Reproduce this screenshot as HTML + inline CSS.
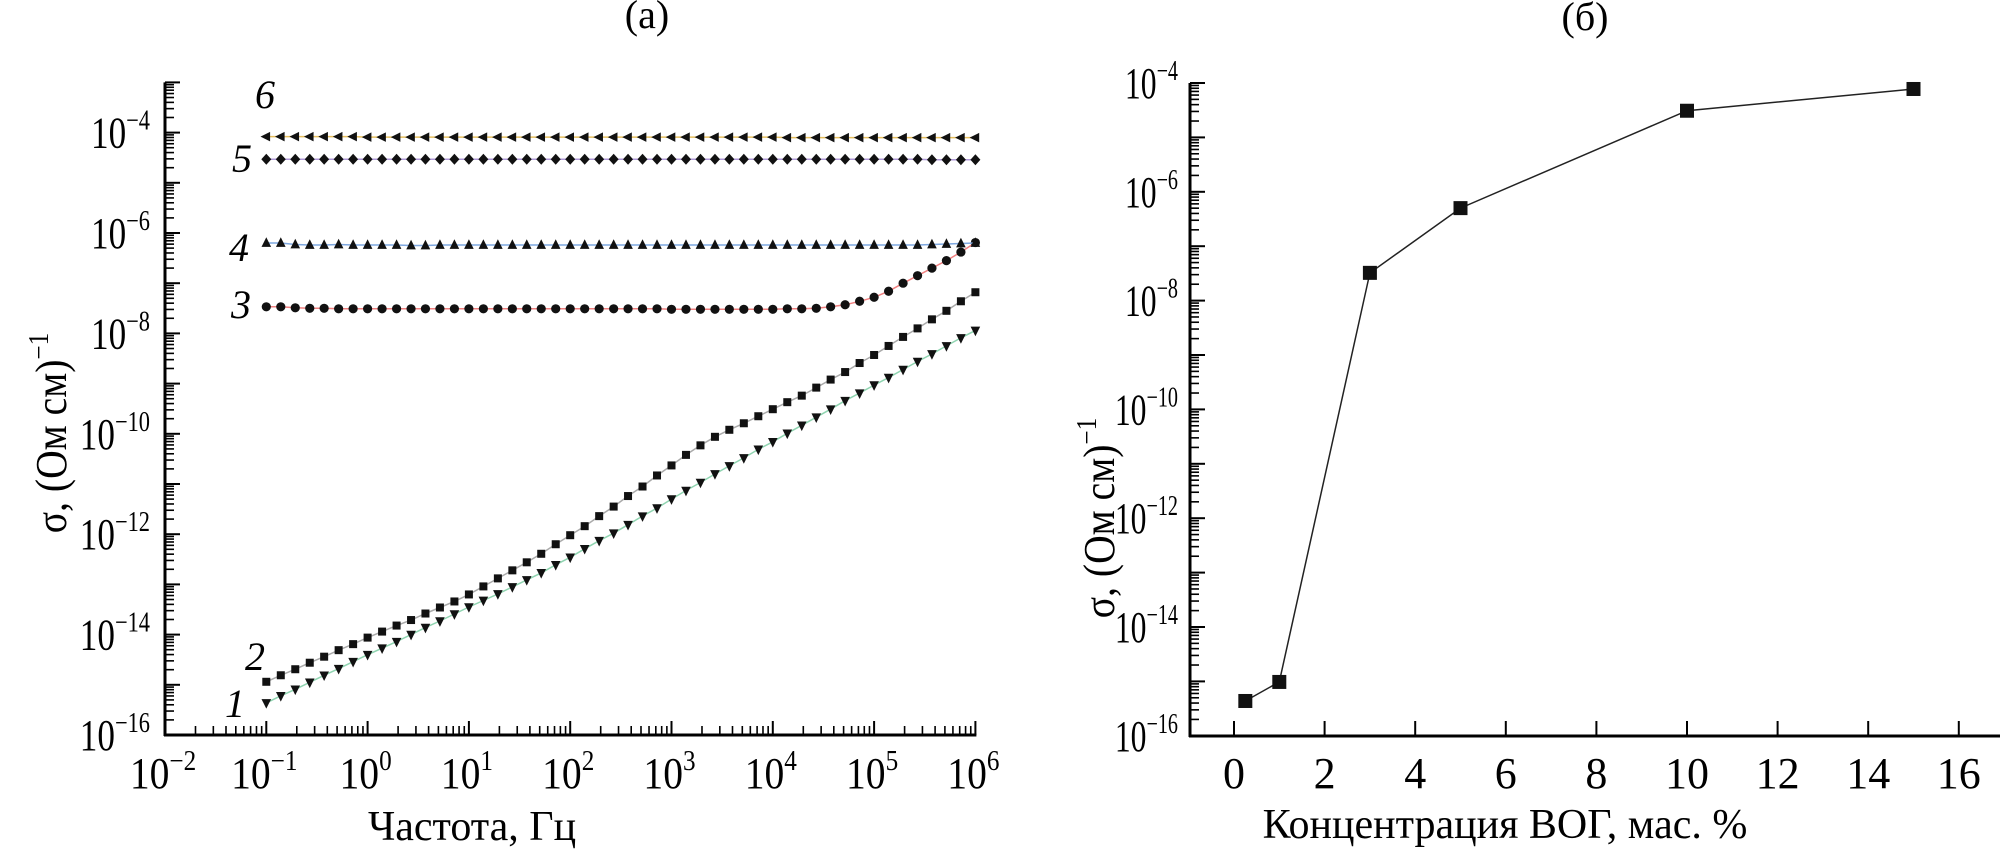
<!DOCTYPE html>
<html><head><meta charset="utf-8">
<style>
html,body{margin:0;padding:0;background:#fff;}
svg{display:block;font-family:"Liberation Serif","DejaVu Serif",serif;}
</style></head>
<body>
<svg id="fig" width="2000" height="851" viewBox="0 0 2000 851" xmlns="http://www.w3.org/2000/svg">
<text x="647" y="28" font-size="40" text-anchor="middle">(а)</text>
<text x="1585" y="30" font-size="40" text-anchor="middle">(б)</text>
<g id="left"></g>
<g id="right"></g>
<text x="472" y="840" font-size="42" text-anchor="middle">Частота, Гц</text>
<text x="1505" y="838" font-size="42" text-anchor="middle">Концентрация ВОГ, мас. %</text>
<text transform="translate(66,433) rotate(-90) scale(0.9,1)" font-size="44" text-anchor="middle">σ, (Ом см)<tspan font-size="28" dy="-18">−1</tspan></text>
<text transform="translate(1114,518) rotate(-90) scale(0.9,1)" font-size="44" text-anchor="middle">σ, (Ом см)<tspan font-size="28" dy="-18">−1</tspan></text>
</svg>
<script>
// ---- Chart (a) data: log10 frequency and log10 conductivity ----
const freqLog = [-1,-0.857,-0.714,-0.571,-0.429,-0.286,-0.143,0,0.143,0.286,0.429,0.571,0.714,0.857,1,1.143,1.286,1.429,1.571,1.714,1.857,2,2.143,2.286,2.429,2.571,2.714,2.857,3,3.143,3.286,3.429,3.571,3.714,3.857,4,4.143,4.286,4.429,4.571,4.714,4.857,5,5.143,5.286,5.429,5.571,5.714,5.857,6];
const sigma1 = [-15.36,-15.22,-15.09,-14.95,-14.81,-14.68,-14.54,-14.40,-14.27,-14.14,-14.00,-13.86,-13.73,-13.59,-13.45,-13.32,-13.19,-13.05,-12.91,-12.77,-12.61,-12.46,-12.29,-12.13,-11.98,-11.81,-11.64,-11.48,-11.30,-11.13,-10.97,-10.80,-10.64,-10.48,-10.31,-10.16,-9.99,-9.83,-9.67,-9.51,-9.34,-9.19,-9.03,-8.88,-8.72,-8.56,-8.41,-8.25,-8.09,-7.94];
const sigma2 = [-14.94,-14.81,-14.69,-14.56,-14.44,-14.31,-14.19,-14.06,-13.94,-13.82,-13.71,-13.58,-13.46,-13.34,-13.20,-13.04,-12.88,-12.72,-12.56,-12.39,-12.20,-12.02,-11.84,-11.64,-11.45,-11.24,-11.05,-10.83,-10.63,-10.42,-10.23,-10.06,-9.92,-9.79,-9.65,-9.51,-9.37,-9.24,-9.08,-8.92,-8.77,-8.59,-8.43,-8.25,-8.07,-7.90,-7.72,-7.55,-7.36,-7.18];
const sigma3 = [-7.47,-7.47,-7.49,-7.50,-7.50,-7.51,-7.51,-7.51,-7.51,-7.51,-7.51,-7.51,-7.51,-7.51,-7.51,-7.51,-7.51,-7.51,-7.51,-7.51,-7.51,-7.51,-7.51,-7.51,-7.51,-7.51,-7.51,-7.51,-7.52,-7.52,-7.52,-7.52,-7.52,-7.52,-7.52,-7.52,-7.51,-7.51,-7.50,-7.47,-7.43,-7.36,-7.28,-7.16,-7.00,-6.85,-6.70,-6.55,-6.38,-6.19];
const sigma4 = [-6.20,-6.20,-6.23,-6.24,-6.24,-6.23,-6.24,-6.24,-6.24,-6.24,-6.25,-6.25,-6.24,-6.24,-6.24,-6.24,-6.24,-6.24,-6.24,-6.24,-6.24,-6.24,-6.24,-6.24,-6.24,-6.24,-6.24,-6.24,-6.24,-6.24,-6.24,-6.24,-6.24,-6.24,-6.24,-6.24,-6.24,-6.24,-6.24,-6.24,-6.24,-6.24,-6.24,-6.24,-6.24,-6.24,-6.23,-6.22,-6.21,-6.20];
const sigma5 = [-4.53,-4.53,-4.53,-4.53,-4.53,-4.53,-4.53,-4.53,-4.53,-4.53,-4.53,-4.53,-4.53,-4.53,-4.53,-4.53,-4.53,-4.53,-4.53,-4.53,-4.53,-4.53,-4.53,-4.53,-4.53,-4.53,-4.53,-4.53,-4.53,-4.53,-4.53,-4.53,-4.53,-4.53,-4.53,-4.53,-4.53,-4.53,-4.53,-4.53,-4.53,-4.53,-4.53,-4.53,-4.53,-4.53,-4.54,-4.54,-4.54,-4.54];
const sigma6 = [-4.08,-4.08,-4.08,-4.08,-4.08,-4.08,-4.08,-4.09,-4.09,-4.09,-4.09,-4.09,-4.09,-4.09,-4.09,-4.09,-4.09,-4.09,-4.09,-4.09,-4.09,-4.09,-4.09,-4.09,-4.09,-4.09,-4.09,-4.09,-4.09,-4.09,-4.09,-4.09,-4.09,-4.09,-4.09,-4.09,-4.10,-4.10,-4.10,-4.10,-4.10,-4.10,-4.10,-4.10,-4.10,-4.10,-4.10,-4.10,-4.10,-4.10];
const xTickExpA = [-2,-1,0,1,2,3,4,5,6];
const yTickExpA = [-4,-6,-8,-10,-12,-14,-16];
// ---- Chart (б) data ----
const concentration = [0.25,1,3,5,10,15];
const sigmaConc = [-15.36,-15.01,-7.49,-6.30,-4.51,-4.11];
const xTickB = [0,2,4,6,8,10,12,14,16];
const yTickExpB = [-4,-6,-8,-10,-12,-14,-16];

const NS = "http://www.w3.org/2000/svg";
function mk(parent, tag, attrs){
  const e = document.createElementNS(NS, tag);
  for (const k in attrs) e.setAttribute(k, attrs[k]);
  parent.appendChild(e);
  return e;
}
function supLabel(parent, x, y, exp, anchor, sx){
  const t = mk(parent, "text", {x:0, y:0, "font-size":44, "text-anchor":anchor,
    transform:`translate(${x},${y}) scale(${sx},1)`});
  t.appendChild(document.createTextNode("10"));
  const s = mk(t, "tspan", {"font-size":28, dy:-18});
  s.textContent = (exp < 0 ? "−" + (-exp) : String(exp));
  return t;
}

// ===== Chart (a) =====
const L = document.getElementById("left");
const ax = {x0:165, xDec:101.3, xMin:-2};
const ay = {y16:735, yDec:50.2};
function X(lf){ return ax.x0 + (lf - ax.xMin) * ax.xDec; }
function Y(ls){ return ay.y16 - (ls + 16) * ay.yDec; }

let el;
el = mk(L, "line", {x1:165, y1:Y(-3), x2:165, y2:736, stroke:"#000", "stroke-width":3});


el = mk(L, "line", {x1:164, y1:735, x2:X(6)+1, y2:735, stroke:"#000", "stroke-width":3});


for (let d = -16; d <= -3; d++){
  el = mk(L, "line", {x1:165, y1:Y(d), x2:165 + (d===-16?0:15), y2:Y(d), stroke:"#000", "stroke-width":2});
  
  
  if (d < -3) for (let m = 2; m <= 9; m++){
    const yy = Y(d + Math.log10(m));
    el = mk(L, "line", {x1:165, y1:yy, x2:174, y2:yy, stroke:"#000", "stroke-width":1.6});
    
    
  }
}
yTickExpA.forEach(e => {
  el = supLabel(L, 150, Y(e) + 15, e, "end", 0.8);
  
  
});
for (let d = -2; d <= 6; d++){
  el = mk(L, "line", {x1:X(d), y1:735, x2:X(d), y2:721, stroke:"#000", "stroke-width":2});
  
  
  if (d < 6) for (let m = 2; m <= 9; m++){
    const xx = X(d + Math.log10(m));
    el = mk(L, "line", {x1:xx, y1:735, x2:xx, y2:726, stroke:"#000", "stroke-width":1.6});
    
    
  }
}
xTickExpA.forEach(e => {
  el = supLabel(L, X(e) - 2, 788, e, "middle", 0.9);
  
  
});

const seriesDefs = [
  {vals:sigma1, color:"#8fd4b0", shape:"down", name:"series-1"},
  {vals:sigma2, color:"#aaaaaa", shape:"square", name:"series-2"},
  {vals:sigma3, color:"#f08080", shape:"circle", name:"series-3"},
  {vals:sigma4, color:"#7fa8e0", shape:"up", name:"series-4"},
  {vals:sigma5, color:"#b09ad8", shape:"diamond", name:"series-5"},
  {vals:sigma6, color:"#e8c060", shape:"left", name:"series-6"}
];
function marker(g, shape, x, y){
  const r = 4.8;
  if (shape === "square") return mk(g, "rect", {x:x-4, y:y-4, width:8, height:8, fill:"#111"});
  if (shape === "circle") return mk(g, "circle", {cx:x, cy:y, r:4.6, fill:"#111"});
  if (shape === "diamond") return mk(g, "polygon", {points:`${x},${y-5.5} ${x+5},${y} ${x},${y+5.5} ${x-5},${y}`, fill:"#111"});
  if (shape === "up") return mk(g, "polygon", {points:`${x},${y-r-1} ${x+r},${y+r-1} ${x-r},${y+r-1}`, fill:"#111"});
  if (shape === "down") return mk(g, "polygon", {points:`${x},${y+r+1} ${x+r},${y-r+1} ${x-r},${y-r+1}`, fill:"#111"});
  if (shape === "left") return mk(g, "polygon", {points:`${x-r-1},${y} ${x+r-1},${y-r} ${x+r-1},${y+r}`, fill:"#111"});
}
seriesDefs.forEach(s => {
  const g = mk(L, "g", {});
  
  
  const pts = freqLog.map((f, i) => X(f).toFixed(1) + "," + Y(s.vals[i]).toFixed(1)).join(" ");
  const pl = mk(g, "polyline", {points:pts, fill:"none", stroke:s.color, "stroke-width":1.5});
  
  
  freqLog.forEach((f, i) => {
    const m = marker(g, s.shape, X(f), Y(s.vals[i]));
    
    
  });
});
const curveLabels = [["6",265,108],["5",242,172],["4",239,261],["3",241,318],["2",255,670],["1",235,717]];
curveLabels.forEach(c => {
  const t = mk(L, "text", {x:c[1], y:c[2], "font-size":40, "font-style":"italic", "text-anchor":"middle"});
  t.textContent = c[0];
  
  
});

// ===== Chart (б) =====
const R = document.getElementById("right");
const bx = {x0:1234, unit:45.3};
const by = {y4:83, dec:54.4};
function XB(c){ return bx.x0 + c * bx.unit; }
function YB(ls){ return by.y4 + (-4 - ls) * by.dec; }
el = mk(R, "line", {x1:1190, y1:YB(-4), x2:1190, y2:737, stroke:"#000", "stroke-width":3});


el = mk(R, "line", {x1:1189, y1:736, x2:2000, y2:736, stroke:"#000", "stroke-width":3});


for (let d = -16; d <= -4; d++){
  if (d > -16){
    el = mk(R, "line", {x1:1190, y1:YB(d), x2:1205, y2:YB(d), stroke:"#000", "stroke-width":2});
    
    
  }
  if (d < -4) for (let m = 2; m <= 9; m++){
    const yy = YB(d + Math.log10(m));
    el = mk(R, "line", {x1:1190, y1:yy, x2:1199, y2:yy, stroke:"#000", "stroke-width":1.6});
    
    
  }
}
yTickExpB.forEach(e => {
  el = supLabel(R, 1178, YB(e) + 15, e, "end", 0.72);
  
  
});
xTickB.forEach(v => {
  el = mk(R, "line", {x1:XB(v), y1:736, x2:XB(v), y2:721, stroke:"#000", "stroke-width":2});
  
  
  const t = mk(R, "text", {x:XB(v), y:788, "font-size":44, "text-anchor":"middle"});
  t.textContent = String(v);
  
  
});
const gb = mk(R, "g", {});


const lineB = mk(gb, "polyline", {points:concentration.map((c,i)=>XB(c).toFixed(1)+","+YB(sigmaConc[i]).toFixed(1)).join(" "), fill:"none", stroke:"#222", "stroke-width":1.5});


concentration.forEach((c, i) => {
  const r = mk(gb, "rect", {x:XB(c)-7, y:YB(sigmaConc[i])-7, width:14, height:14, fill:"#111"});
  
  
});
</script>
</body></html>
